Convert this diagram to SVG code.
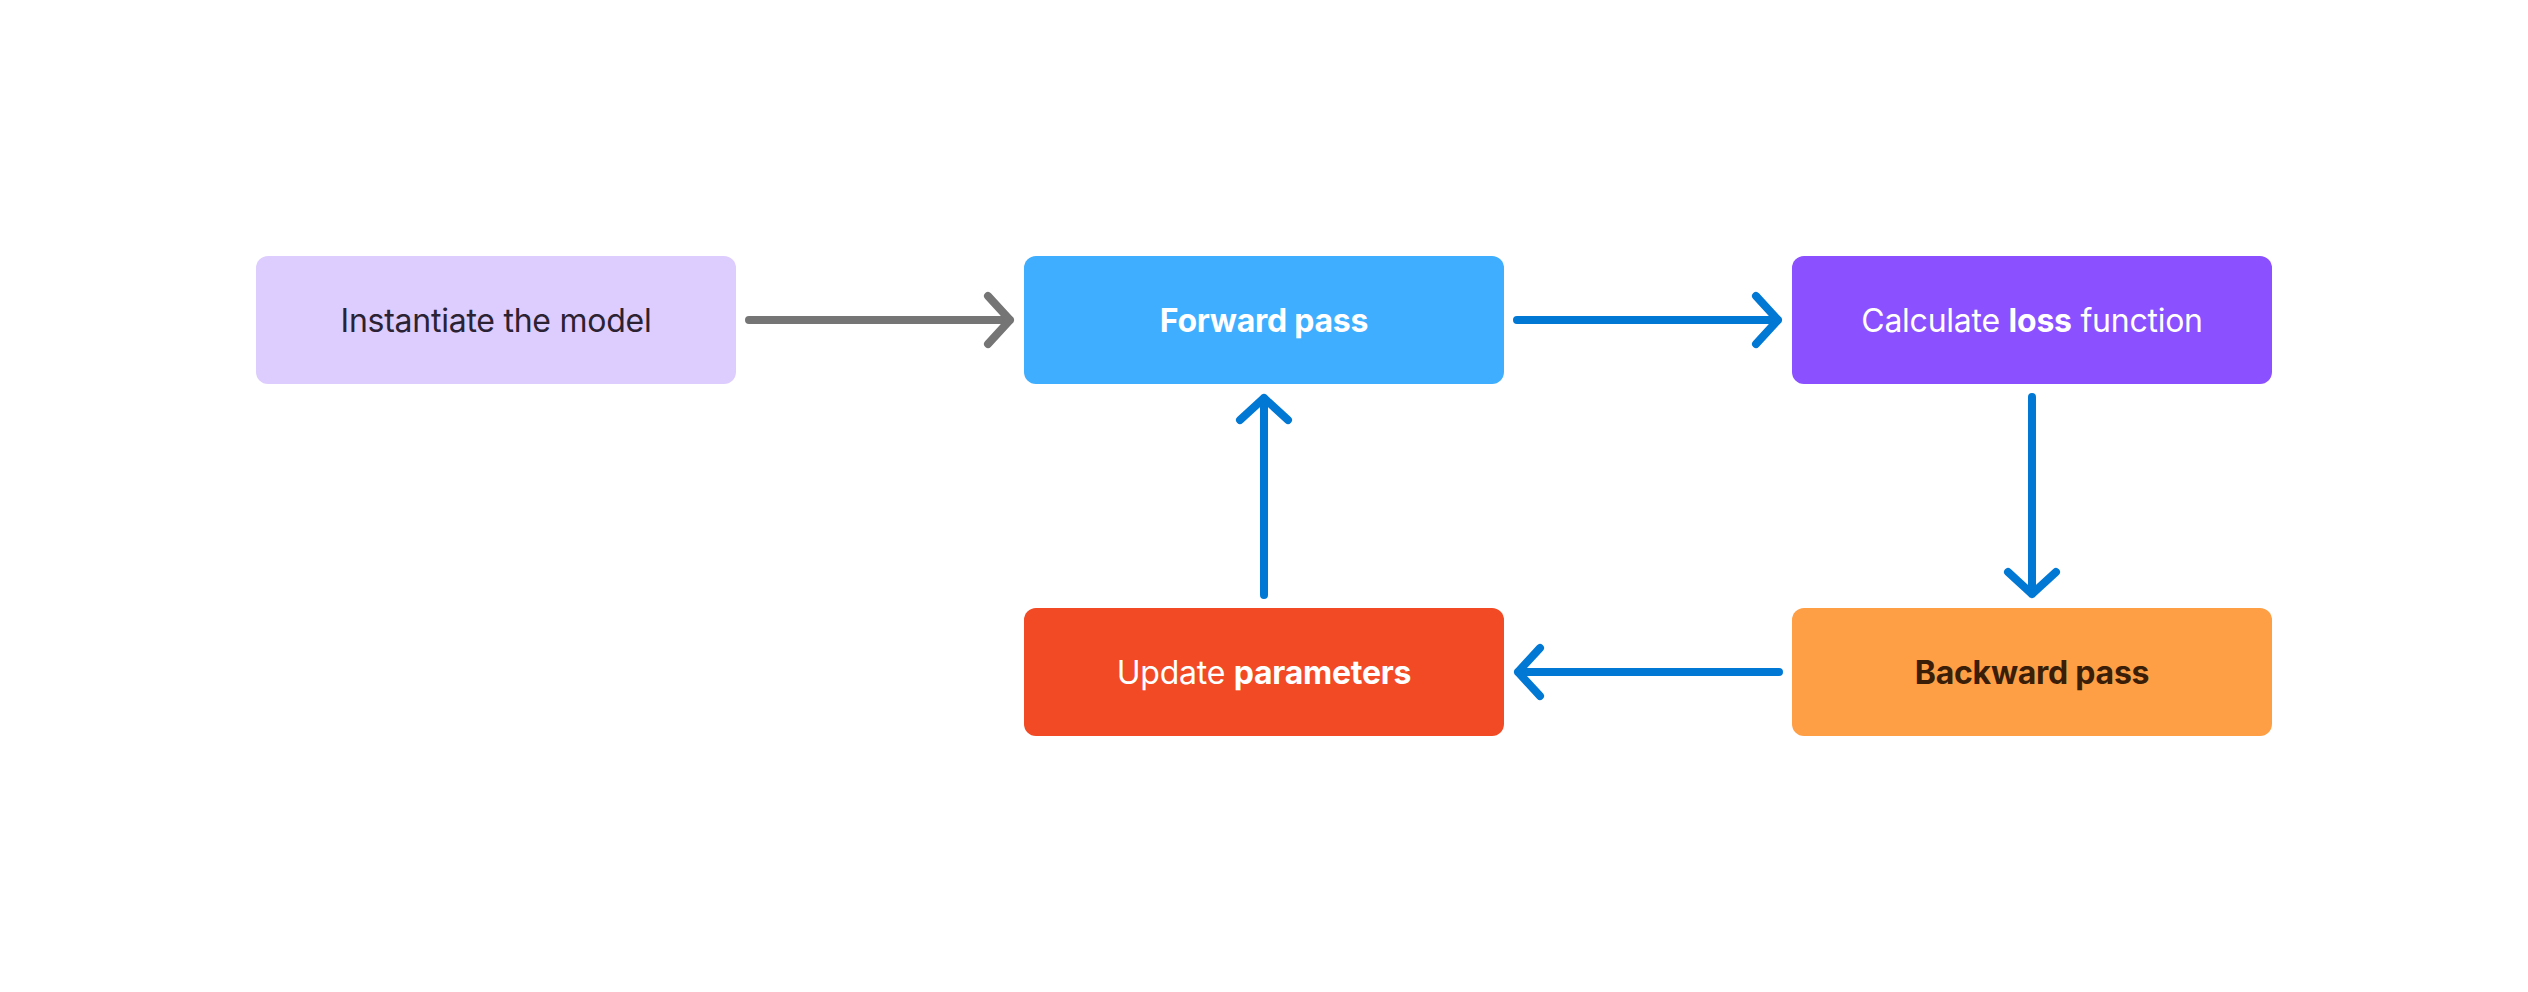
<svg xmlns="http://www.w3.org/2000/svg" width="2528" height="992" viewBox="0 0 2528 992">
<style>
.box{stroke:none}
.t{font-family:Inter,"Noto Sans","Liberation Sans",sans-serif;font-size:32px;letter-spacing:-0.25px;text-anchor:middle}
.b{font-weight:700}
.c{fill:none;stroke-width:8;stroke-linecap:round;stroke-linejoin:round}
.gray{stroke:#757575}
.blue{stroke:#0078D4}
</style>
<rect width="2528" height="992" fill="#FFFFFF"/>
<g id="node-instantiate">
<rect class="box" x="256" y="256" width="480" height="128" rx="12" fill="#DDCDFE"/>
<text class="t" x="496" y="331.5" fill="#2B2233">Instantiate the model</text>
</g>
<g id="node-forward">
<rect class="box" x="1024" y="256" width="480" height="128" rx="12" fill="#3FAEFF"/>
<text class="t b" x="1264" y="331.5" fill="#FFFFFF">Forward pass</text>
</g>
<g id="node-loss">
<rect class="box" x="1792" y="256" width="480" height="128" rx="12" fill="#8B50FF"/>
<text class="t" x="2032" y="331.5" fill="#FFFFFF">Calculate <tspan class="b">loss</tspan> function</text>
</g>
<g id="node-update">
<rect class="box" x="1024" y="608" width="480" height="128" rx="12" fill="#F24A24"/>
<text class="t" x="1264" y="683.5" fill="#FFFFFF">Update <tspan class="b">parameters</tspan></text>
</g>
<g id="node-backward">
<rect class="box" x="1792" y="608" width="480" height="128" rx="12" fill="#FF9F45"/>
<text class="t b" x="2032" y="683.5" fill="#3A1E08">Backward pass</text>
</g>
<g id="connectors">
<path class="c gray" d="M749 320 H1010 M988 296 L1010 320 L988 344"/>
<path class="c blue" d="M1517 320 H1778 M1756 296 L1778 320 L1756 344"/>
<path class="c blue" d="M2032 397 V594 M2008 572 L2032 594 L2056 572"/>
<path class="c blue" d="M1779 672 H1518 M1540 648 L1518 672 L1540 696"/>
<path class="c blue" d="M1264 595 V398 M1240 420 L1264 398 L1288 420"/>
</g>
</svg>
